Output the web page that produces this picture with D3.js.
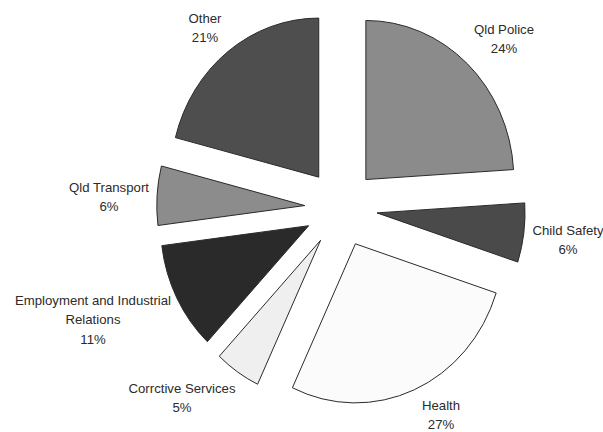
<!DOCTYPE html>
<html>
<head>
<meta charset="utf-8">
<script src="https://cdn.jsdelivr.net/npm/d3@7"></script>
<style>
  html, body { margin: 0; padding: 0; background: #fff; }
  svg { display: block; }
  text { font-family: "Liberation Sans", Arial, sans-serif; font-size: 13.2px; fill: #2b2b2b; }
</style>
</head>
<body>
<svg id="chart" width="603" height="432"></svg>
<script>
// ---- data ----
const categories = ["Qld Police", "Child Safety", "Health", "Corrctive Services",
                    "Employment and Industrial Relations", "Qld Transport", "Other"];
const values = [24, 6, 27, 5, 11, 6, 21];
const labelLines = [["Qld Police"], ["Child Safety"], ["Health"], ["Corrctive Services"],
                    ["Employment and Industrial", "Relations"], ["Qld Transport"], ["Other"]];

// ---- layout / style (not data) ----
const colors = ["#8b8b8b", "#4a4a4a", "#fbfbfb", "#efefef", "#2a2a2a", "#8c8c8c", "#4e4e4e"];
const labelCenters = [[504, 29], [568, 230], [441, 405], [182, 388], [93, 300], [109, 187], [205, 18]];
const cx = 341, cy = 208, radius = 148, explode = 36.3, yStretch = 1.075, lineH = 19.5;

const svg = d3.select("#chart");
const pie = d3.pie().sort(null).value(d => d.value).startAngle(0).endAngle(2 * Math.PI);
const arc = d3.arc().innerRadius(0).outerRadius(radius);

const data = categories.map((c, i) => ({ name: c, value: values[i], color: colors[i], lines: labelLines[i], lc: labelCenters[i] }));
const arcs = pie(data);
const total = d3.sum(values);

const g = svg.append("g").attr("transform", `translate(${cx},${cy}) scale(1,${yStretch})`);

g.selectAll("path.slice").data(arcs).join("path")
  .attr("class", "slice")
  .attr("d", arc)
  .attr("transform", d => {
    const m = (d.startAngle + d.endAngle) / 2;
    return `translate(${Math.sin(m) * explode},${-Math.cos(m) * explode})`;
  })
  .attr("fill", d => d.data.color)
  .attr("stroke", "#2a2a2a")
  .attr("stroke-width", 1)
  .attr("vector-effect", "non-scaling-stroke")
  .attr("stroke-linejoin", "miter");

const labels = svg.selectAll("g.label").data(arcs).join("g").attr("class", "label");
labels.each(function(d) {
  const lines = d.data.lines.concat([Math.round(d.data.value / total * 100) + "%"]);
  const sel = d3.select(this);
  lines.forEach((t, k) => {
    sel.append("text")
      .attr("x", d.data.lc[0])
      .attr("y", d.data.lc[1] + k * lineH)
      .attr("text-anchor", "middle")
      .attr("dominant-baseline", "central")
      .text(t);
  });
});
</script>
</body>
</html>
